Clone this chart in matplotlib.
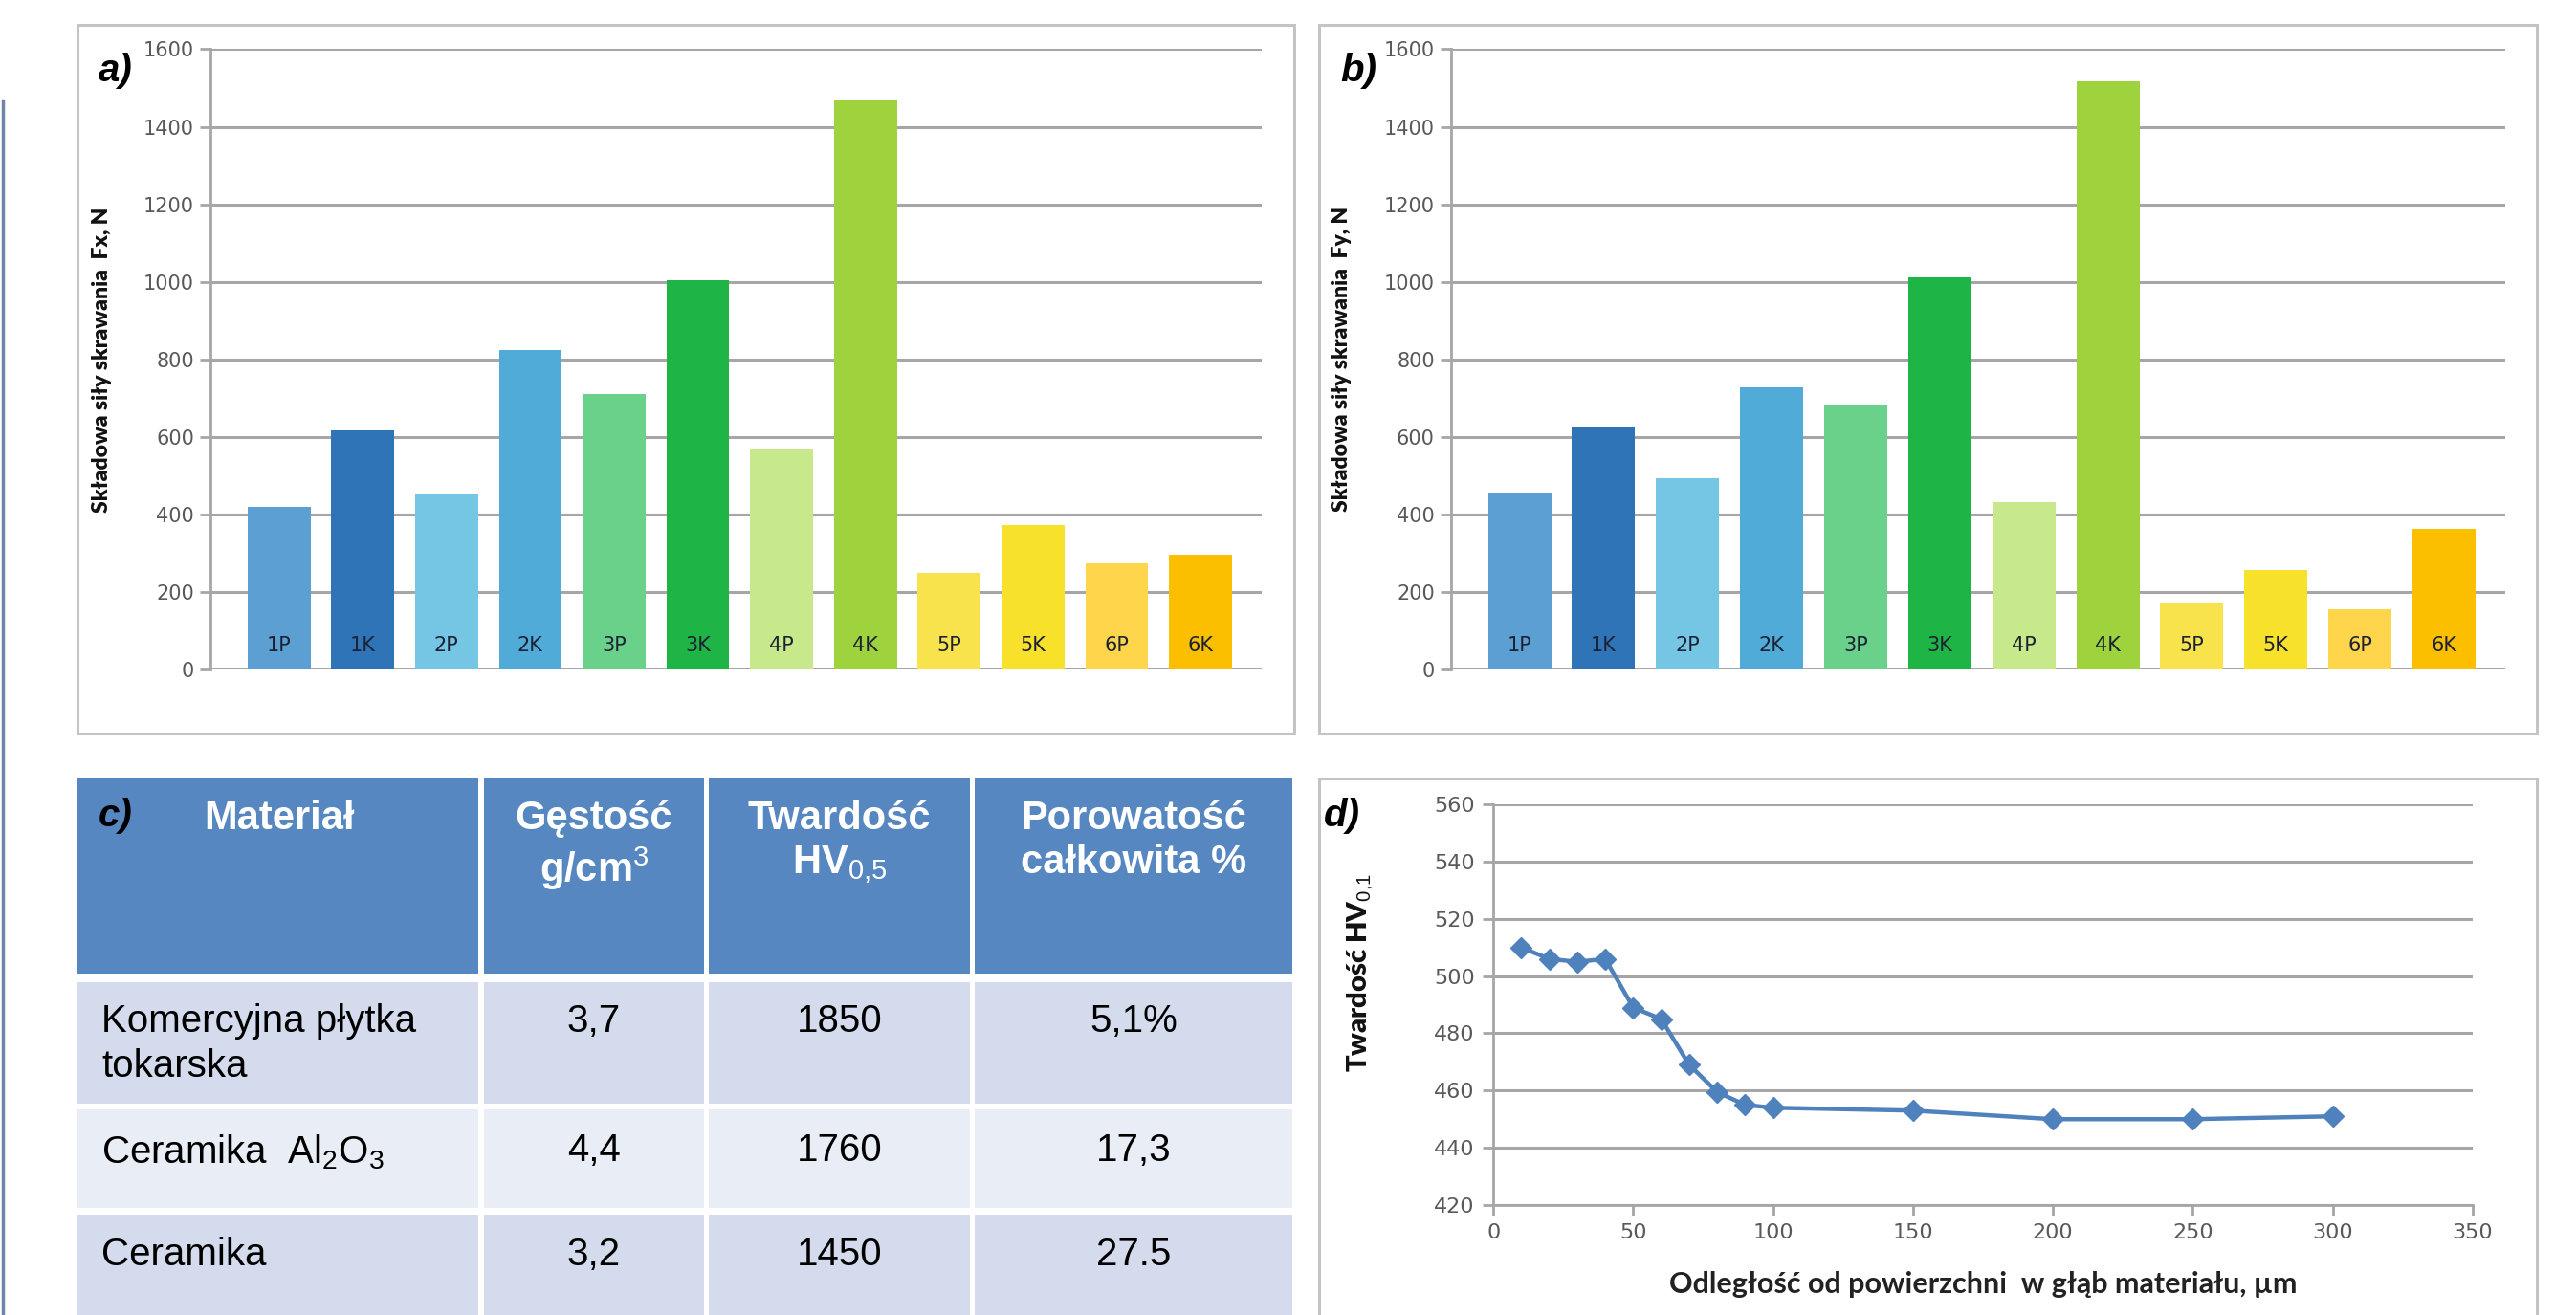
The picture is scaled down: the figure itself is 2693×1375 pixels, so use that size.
import matplotlib
matplotlib.use("Agg")
import matplotlib.pyplot as plt
from matplotlib.patches import Rectangle

# --- dane ---
kategorie = ["1P", "1K", "2P", "2K", "3P", "3K", "4P", "4K", "5P", "5K", "6P", "6K"]
fx_sila = [420, 618, 452, 825, 710, 1004, 567, 1469, 250, 373, 275, 298]
fy_sila = [457, 627, 493, 728, 682, 1012, 432, 1517, 174, 258, 157, 364]
kolory = ["#5b9fd3", "#2e74b7", "#75c6e5", "#50abd9", "#69d18a", "#1fb446",
          "#c7e98b", "#9fd33d", "#f8e34c", "#f7e12b", "#ffd54c", "#fbbf00"]

odleglosc = [10, 20, 30, 40, 50, 60, 70, 80, 90, 100, 150, 200, 250, 300]
twardosc = [510, 506, 505, 506, 489, 485, 469, 459.5, 455, 454, 453, 450, 450, 451]

naglowki = ["Materiał", "Gęstość\ng/cm$^3$", "Twardość\nHV$_{0{,}5}$", "Porowatość\ncałkowita %"]
materialy = ["Komercyjna płytka\ntokarska", "Ceramika  Al$_2$O$_3$", "Ceramika"]
gestosc = ["3,7", "4,4", "3,2"]
twardosc_hv = ["1850", "1760", "1450"]
porowatosc = ["5,1%", "17,3", "27.5"]

plt.rcParams["mathtext.fontset"] = "custom"
plt.rcParams["mathtext.rm"] = "Liberation Sans"
plt.rcParams["mathtext.it"] = "Liberation Sans:italic"
plt.rcParams["mathtext.bf"] = "Liberation Sans:bold"

W, H = 1568, 801  # uklad liczony w pikselach miniatury


def fxp(x):
    return x / W


def fyp(y):
    return 1 - y / H


fig = plt.figure(figsize=(26.93, 13.75), dpi=100)
fig.patch.set_facecolor("white")

SANS = ["Liberation Sans", "DejaVu Sans"]
GRID = "#a6a6a6"
TICK = "#595959"


def ramka(x0, y0, x1, y1):
    fig.add_artist(Rectangle((fxp(x0), fyp(y1)), fxp(x1) - fxp(x0), fyp(y0) - fyp(y1),
                             transform=fig.transFigure, fill=False, ec="#c4c4c4", lw=2.2))


def wykres_slupkowy(x_box, x_ax0, x_ax1, wartosci, ylabel, litera):
    ramka(x_box, 15, x_box + 741, 447)
    ax = fig.add_axes([fxp(x_ax0), fyp(408), fxp(x_ax1) - fxp(x_ax0), fyp(30) - fyp(408)])
    pos = range(len(kategorie))
    ax.bar(pos, wartosci, width=0.75, color=kolory, zorder=3)
    for i, k in enumerate(kategorie):
        ax.text(i, 62, k, ha="center", va="center", fontsize=15, color="#1c2233", zorder=4)
    ax.set_xlim(-0.82, 11.73)
    ax.set_ylim(0, 1600)
    ax.set_yticks(range(0, 1601, 200))
    ax.set_xticks([])
    ax.yaxis.grid(True, color=GRID, lw=2.2)
    ax.set_axisbelow(True)
    for s in ["top", "right", "bottom"]:
        ax.spines[s].set_visible(False)
    ax.spines["left"].set_color(GRID)
    ax.spines["left"].set_linewidth(2)
    ax.tick_params(axis="y", colors=GRID, labelcolor=TICK, labelsize=15, length=8, width=2, pad=4)
    ax.set_ylabel(ylabel, fontsize=16.5, fontweight="heavy", family="Lato", color="#111111")
    ax.yaxis.set_label_coords(-0.094, 0.5)
    fig.text(fxp(x_box + 13), fyp(43), litera, fontsize=29, fontweight="bold", style="italic",
             family="Liberation Sans", ha="left", va="center")
    return ax


wykres_slupkowy(47, 128, 768, fx_sila, "Składowa siły skrawania  Fx, N", "a)")
wykres_slupkowy(803, 883, 1525, fy_sila, "Składowa siły skrawania  Fy, N", "b)")

# --- c) tabela ---
kol = [47, 293, 430, 592, 788]
wiersze = [(474, 593), (598, 672), (676, 736), (740, 806)]
tla = ["#5687c1", "#d3dbec", "#e9edf5", "#d3dbec"]
gap = 1.6
for r, (y0, y1) in enumerate(wiersze):
    for c in range(4):
        x0 = kol[c] + (gap if c > 0 else 0)
        x1 = kol[c + 1] - gap
        fig.add_artist(Rectangle((fxp(x0), fyp(y1)), fxp(x1) - fxp(x0), fyp(y0) - fyp(y1),
                                 transform=fig.transFigure, color=tla[r], lw=0))

for c, tekst in enumerate(naglowki):
    xc = (kol[c] + kol[c + 1]) / 2
    fig.text(fxp(xc), fyp(487), tekst, ha="center", va="top", fontsize=30, fontweight="bold",
             family=SANS, color="white", linespacing=1.2)
fig.text(fxp(60), fyp(497), "c)", ha="left", va="center", fontsize=29, fontweight="bold",
         style="italic", family=SANS, color="black")

y_txt = [611, 690, 753]
for r in range(3):
    fig.text(fxp(62), fyp(y_txt[r]), materialy[r], ha="left", va="top", fontsize=29,
             family=SANS, color="black", linespacing=1.3)
    for c, kolumna in enumerate([gestosc, twardosc_hv, porowatosc], start=1):
        xc = (kol[c] + kol[c + 1]) / 2
        fig.text(fxp(xc), fyp(y_txt[r]), kolumna[r], ha="center", va="top", fontsize=29,
                 family=SANS, color="black")

# --- d) wykres liniowy ---
ramka(803, 474, 1544, 815)
axd = fig.add_axes([fxp(909), fyp(734), fxp(1505) - fxp(909), fyp(490) - fyp(734)])
axd.plot(odleglosc, twardosc, color="#4f81bd", lw=3.2, marker="D", ms=11, zorder=3)
axd.set_xlim(0, 350)
axd.set_ylim(420, 560)
axd.set_xticks(range(0, 351, 50))
axd.set_yticks(range(420, 561, 20))
axd.yaxis.grid(True, color=GRID, lw=2.2)
axd.set_axisbelow(True)
for s in ["top", "right"]:
    axd.spines[s].set_visible(False)
for s in ["left", "bottom"]:
    axd.spines[s].set_color(GRID)
    axd.spines[s].set_linewidth(2)
axd.tick_params(colors=GRID, labelcolor=TICK, labelsize=16, length=8, width=2, pad=6)
axd.set_ylabel("Twardość HV$_{0{,}1}$", fontsize=21, fontweight="heavy", family="Lato", color="#111111")
axd.yaxis.set_label_coords(-0.12, 0.58)
axd.set_xlabel("Odległość od powierzchni  w głąb materiału, µm", fontsize=22, fontweight="bold",
               family="Lato", color="#222222")
axd.xaxis.set_label_coords(0.5, -0.165)
fig.text(fxp(806), fyp(497), "d)", fontsize=29, fontweight="bold", style="italic",
         family="Liberation Sans", ha="left", va="center")

# lewa krawedz
fig.add_artist(plt.Line2D([0.0012, 0.0012], [0, fyp(62)], transform=fig.transFigure,
                          color="#7086a8", lw=2.5))

fig.savefig("out.png", dpi=100, facecolor="white")
